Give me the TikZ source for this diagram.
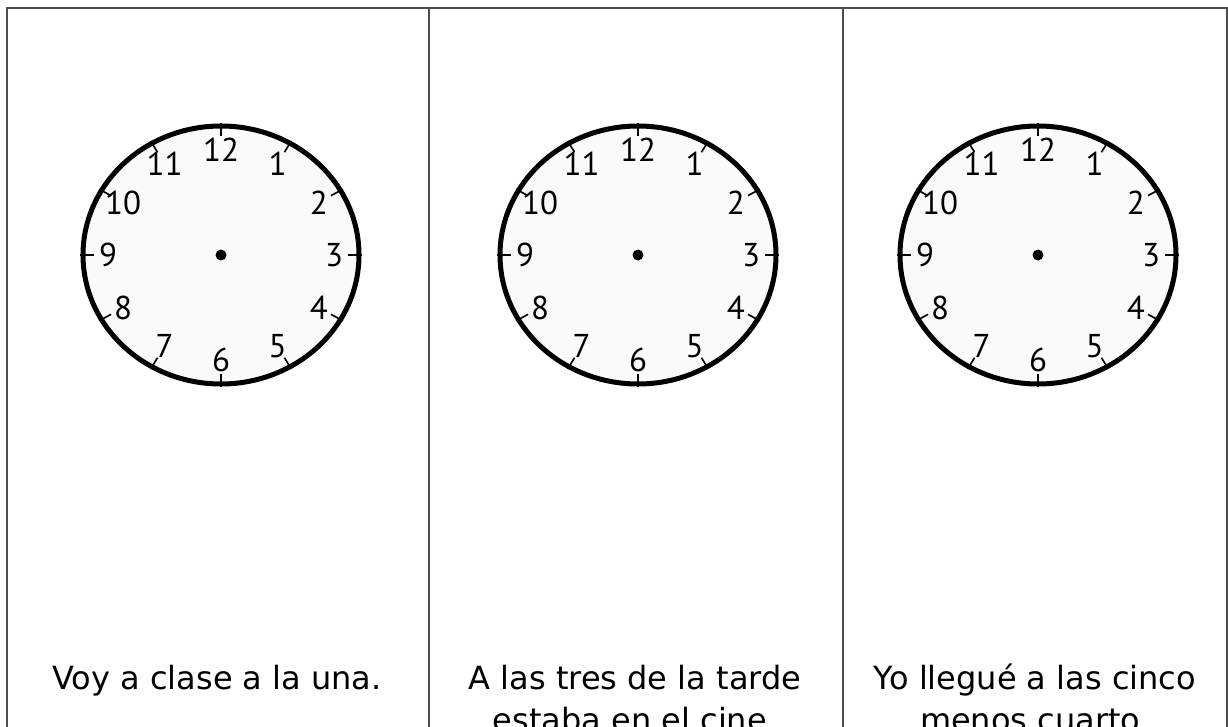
\documentclass[tikz,border=0pt]{standalone}
\usepackage{fontspec}
\setmainfont{DejaVu Sans}
\newfontfamily\dialfont{PT Sans}
\usetikzlibrary{calc,positioning}
\newcommand{\ClockRX}{138}
\newcommand{\ClockRY}{129}
\newcommand{\NumRX}{113}
\newcommand{\NumRY}{105}
\tikzset{
  frameline/.style={draw=black!70, line width=2pt},
  rim/.style={draw=black, line width=5pt, fill=black!2},
  hourtick/.style={draw=black, line width=1.6pt},
  numeral/.style={inner sep=0pt, font=\dialfont\fontsize{33}{33}\selectfont},
  hub/.style={circle, fill=black, inner sep=0pt, minimum size=11pt},
  caption/.style={anchor=base, inner sep=0pt, font=\fontsize{32}{36}\selectfont}
}
\newcommand{\DrawClock}[2]{%
  \coordinate (#1) at (#2,255);
  \draw[rim] (#1) ellipse [x radius=\ClockRX, y radius=\ClockRY];
  \foreach \h in {1,...,12}{%
    \draw[hourtick]
      ($(#1)+({0.92*\ClockRX*sin(30*\h)},{-0.92*\ClockRY*cos(30*\h)})$) --
      ($(#1)+({1.02*\ClockRX*sin(30*\h)},{-1.02*\ClockRY*cos(30*\h)})$);
    \node[numeral] (#1-\h) at ($(#1)+({\NumRX*sin(30*\h)},{-\NumRY*cos(30*\h)})$) {\h};
  }%
  \node[hub] (#1-hub) at (#1) {};
}
\begin{document}
\begin{tikzpicture}[x=1pt,y=-1pt]
  \useasboundingbox (0,0) rectangle (1228,727);
  \clip (0,0) rectangle (1228,727);
  \fill[white] (0,0) rectangle (1228,727);
  % table rules
  \draw[frameline] (7,730) -- (7,8) -- (1227,8) -- (1227,730);
  \draw[frameline] (429,8) -- (429,730);
  \draw[frameline] (843,8) -- (843,730);
  % clocks
  \foreach \name/\cx in {clockA/221, clockB/638, clockC/1038}{%
    \DrawClock{\name}{\cx}
  }
  % captions
  \node[caption] (capA) at (217,689) {Voy a clase a la una.};
  \node[caption] (capB) at (635,689) {A las tres de la tarde};
  \node[caption] (capB2) at ([yshift=-42pt]capB.base) {estaba en el cine.};
  \node[caption] (capC) at (1035,689) {Yo llegué a las cinco};
  \node[caption] (capC2) at ([yshift=-42pt]capC.base) {menos cuarto.};
\end{tikzpicture}
\end{document}
